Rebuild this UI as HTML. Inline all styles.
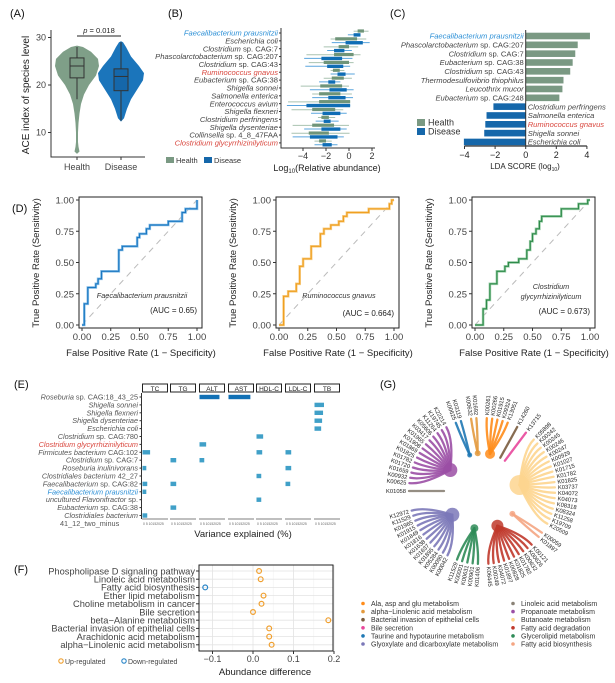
<!DOCTYPE html>
<html><head><meta charset="utf-8"><style>
html,body{margin:0;padding:0;background:#fff;}
svg{display:block;font-family:"Liberation Sans",Arial,sans-serif;}
</style></head><body>
<svg id="fig" width="615" height="683" viewBox="0 0 615 683" xmlns="http://www.w3.org/2000/svg">
<g id="gA"></g>
<g id="gB"></g>
<g id="gC"></g>
<g id="gD"></g>
<g id="gE"></g>
<g id="gF"></g>
<g id="gG"></g>
</svg>
<script>
// ---------- DATA ----------
// Panel A
const aGroups = ["Health","Disease"];
const aHealthProfileV = [5.5,6,7,8,10,12,14,16,18,20,22,24,25.5,27,28,28.3];
const aHealthProfileW = [0,2.5,1.5,1,1,1.5,2.5,4,7,12,19,22,21,14,6,0];
const aDiseaseProfileV = [12.3,13,15,17,19,21,22.5,24,26,28,29,29.2];
const aDiseaseProfileW = [0,3,6,10,16,22,23,18,10,5,2,0];
const aBoxHealth = [17,21.5,24,25.7,28];
const aBoxDisease = [12.5,18.8,21.8,23.4,29];
const aTicks = [10,20,30];
// Panel B
const bSpecies = [["Faecalibacterium prausnitzii",""],["Escherichia coli",""],["Clostridium"," sp. CAG:7"],["Phascolarctobacterium"," sp. CAG:207"],["Clostridium"," sp. CAG:43"],["Ruminococcus gnavus",""],["Eubacterium"," sp. CAG:38"],["Shigella sonnei",""],["Salmonella enterica",""],["Enterococcus avium",""],["Shigella flexneri",""],["Clostridium perfringens",""],["Shigella dysenteriae",""],["Collinsella"," sp. 4_8_47FAA"],["Clostridium glycyrrhizinilyticum",""]];
const bLabelColor = ["blue","","","","","red","","","","","","","","","red"];
const bHealthWhiskLo = [0.4,-1.6,-2.2,-3.7,-3.5,-1.6,-2.2,-4.2,-3.2,-5.3,-5.0,-2.7,-4.9,-5.0,-3.0];
const bHealthWhiskHi = [1.7,1.5,0.8,1.0,0.4,-0.4,0.25,0,0.25,0.1,-0.5,-1.2,0,0.05,-1.5];
const bHealthBoxLo = [0.75,-1.2,-0.9,-1.3,-2.2,-1.4,-1.5,-2.5,-2.6,-2.6,-3.2,-2.4,-3.2,-3.5,-2.6];
const bHealthBoxHi = [1.3,0.7,0,0.4,0,-0.8,-0.45,-0.6,-0.75,0.1,-1.2,-1.75,-1.3,-1.75,-2.0];
const bDisWhiskLo = [-0.1,-1.5,-1.9,-3.9,-3.8,-1.6,-2.6,-3.4,-3.2,-5.4,-3.3,-2.9,-3.9,-4.9,-3.0];
const bDisWhiskHi = [1.0,1.8,0.25,0.3,0.1,0.5,-0.75,0.4,0.35,0.1,-0.2,-0.9,-0.2,-0.45,-1.0];
const bDisBoxLo = [0.4,-0.3,-1.3,-2.4,-1.9,-1.0,-1.8,-1.7,-1.8,-3.7,-2.3,-2.2,-2.4,-3.4,-2.3];
const bDisBoxHi = [1.0,1.2,-0.4,-0.6,-0.5,-0.3,-1.2,-0.2,-0.3,0.1,-0.75,-1.6,-0.75,-1.0,-1.5];
const bTicks = [-4,-2,0,2];
// Panel C
const cSpecies = [["Faecalibacterium prausnitzii",""],["Phascolarctobacterium"," sp. CAG:207"],["Clostridium"," sp. CAG:7"],["Eubacterium"," sp. CAG:38"],["Clostridium"," sp. CAG:43"],["Thermodesulfovibrio thiophilus",""],["Leucothrix mucor",""],["Eubacterium"," sp. CAG:248"],["Clostridium perfringens",""],["Salmonella enterica",""],["Ruminococcus gnavus",""],["Shigella sonnei",""],["Escherichia coli",""]];
const cLabelColor = ["blue","","","","","","","","","","red","",""];
const cLDA = [4.2,3.4,3.24,3.07,2.91,2.47,2.4,2.2,-2.11,-2.56,-2.64,-2.71,-4.04];
const cTicks = [-4,-2,0,2,4];
// Panel D
const dTicks = [0,0.25,0.5,0.75,1];
const dTickLabels = ["0.00","0.25","0.50","0.75","1.00"];
const roc1F = [0,0.02,0.02,0.05,0.05,0.12,0.12,0.14,0.14,0.17,0.17,0.32,0.32,0.35,0.35,0.48,0.48,0.5,0.5,0.56,0.56,0.59,0.59,0.75,0.75,0.87,0.87,0.9,0.9,1,1];
const roc1T = [0,0,0.17,0.17,0.3,0.3,0.33,0.33,0.37,0.37,0.43,0.43,0.6,0.6,0.63,0.63,0.7,0.7,0.73,0.73,0.77,0.77,0.8,0.8,0.83,0.83,0.9,0.9,0.93,0.93,1];
const roc2F = [0,0.04,0.04,0.08,0.08,0.15,0.15,0.18,0.18,0.21,0.21,0.28,0.28,0.36,0.36,0.39,0.39,0.45,0.45,0.52,0.52,0.56,0.56,0.59,0.59,0.78,0.78,0.96,0.96,0.98,0.98,1];
const roc2T = [0,0,0.23,0.23,0.27,0.27,0.33,0.33,0.47,0.47,0.53,0.53,0.63,0.63,0.73,0.73,0.77,0.77,0.8,0.8,0.83,0.83,0.87,0.87,0.9,0.9,0.93,0.93,0.97,0.97,1,1];
const roc3F = [0,0.07,0.07,0.1,0.1,0.13,0.13,0.19,0.19,0.26,0.26,0.29,0.29,0.38,0.38,0.45,0.45,0.48,0.48,0.5,0.5,0.53,0.53,0.56,0.56,0.58,0.58,0.75,0.75,0.9,0.9,0.98,0.98,1];
const roc3T = [0,0,0.13,0.13,0.2,0.2,0.33,0.33,0.43,0.43,0.47,0.47,0.5,0.5,0.53,0.53,0.6,0.6,0.67,0.67,0.73,0.73,0.77,0.77,0.83,0.83,0.87,0.87,0.93,0.93,0.97,0.97,1,1];
const dSpecies = [["Faecalibacterium prausnitzii"],["Ruminococcus gnavus"],["Clostridium","glycyrrhizinilyticum"]];
const dAUC = ["(AUC = 0.65)","(AUC = 0.664)","(AUC = 0.673)"];
// Panel E
const eFacets = ["TC","TG","ALT","AST","HDL-C","LDL-C","TB"];
const eSpecies = [["Roseburia"," sp. CAG:18_43_25"],["Shigella sonnei",""],["Shigella flexneri",""],["Shigella dysenteriae",""],["Escherichia coli",""],["Clostridium"," sp. CAG:780"],["Clostridium  glycyrrhizinilyticum",""],["Firmicutes bacterium"," CAG:102"],["Clostridium"," sp. CAG:7"],["Roseburia inulinivorans",""],["Clostridiales bacterium"," 42_27"],["Faecalibacterium"," sp. CAG:82"],["Faecalibacterium prausnitzii",""],["uncultured Flavonifractor"," sp."],["Eubacterium"," sp. CAG:38"],["Clostridiales bacterium",""]];
const eLabelColor = ["","","","","","","red","","","","","","blue","","",""];
const eRow = [0,0,1,2,3,4,5,6,7,7,7,8,8,9,9,10,11,11,11,12,13,14,15];
const eFacet = [2,3,6,6,6,6,4,2,0,4,5,1,2,0,5,4,0,1,5,0,4,1,0];
const eValue = [21,23,10,9,8,7,7,7,8,6,6,6,5,4,6,5,5,6,5,4,5,6,5];
// Panel F
const fPathways = ["Phospholipase D signaling pathway","Linoleic acid metabolism","Fatty acid biosynthesis","Ether lipid metabolism","Choline metabolism in cancer","Bile secretion","beta\u2212Alanine metabolism","Bacterial invasion of epithelial cells","Arachidonic acid metabolism","alpha\u2212Linolenic acid metabolism"];
const fDiff = [0.015,0.019,-0.118,0.026,0.021,0.0,0.186,0.04,0.04,0.046];
const fUp = [1,1,0,1,1,1,1,1,1,1];
const fTicks = [-0.1,0,0.1,0.2];
const fTickLabels = ["\u22120.1","0.0","0.1","0.2"];
// Panel G
const gGroupNames = ["Linoleic acid metabolism","Propanoate metabolism","Taurine and hypotaurine metabolism","alpha\u2212Linolenic acid metabolism","Ala, asp and glu metabolism","Bacterial invasion of epithelial cells","Bile secretion","Butanoate metabolism","Fatty acid biosynthesis","Fatty acid degradation","Glycerolipid metabolism","Glyoxylate and dicarboxylate metabolism"];
const gGroupColors = ["#8a8276","#9b4fa5","#1f78b4","#e39a3e","#ff8c1a","#7a5c3e","#e8479b","#fdd58f","#f4a582","#c0392b","#2e8b57","#7b78b8"];
const gGroupLeaves = [
 ["K01058"],
 ["K00625","K00932","K01659","K01720","K01782","K01825","K01869","K01908","K01965","K03417","K05606","K11264","K19745","K22214"],
 ["K00625","K03119"],
 ["K00632","K01692"],
 ["K00261","K00266","K01915","K09324","K13051"],
 ["K14260"],
 ["K13715"],
 ["K05898","K00242","K00245","K00246","K00247","K00929","K01027","K01715","K01782","K01825","K03737","K04072","K04073","K08318","K08324","K11258","K19709","K20509"],
 ["K00059","K01897"],
 ["K00121","K00626","K00632","K01782","K01825","K00828","K01897","K04072","K00249","K06445"],
 ["K01406","K00901","K00631","K00001","K11529"],
 ["K00042","K00090","K05284","K01895","K01637","K01638","K01816","K01849","K01915","K01965","K11529","K12972"]
];
const gHubR = [0,7,2.5,3,5,0,0,10,3,6,4,7];
const gLegendOrder = [4,3,5,6,2,11,0,1,7,9,10,8];

// ---------- HELPERS ----------
const NS="http://www.w3.org/2000/svg";
function mk(tag,attrs,parent){const e=document.createElementNS(NS,tag);for(const k in attrs)e.setAttribute(k,attrs[k]);parent.appendChild(e);return e;}
function txt(parent,x,y,s,attrs){const t=mk('text',Object.assign({x:x,y:y,'font-size':9,fill:'#333'},attrs||{}),parent);t.textContent=s;return t;}
function spLabel(parent,x,y,parts,anchor,color,fs){
  const t=mk('text',{x:x,y:y,'font-size':fs,'text-anchor':anchor,fill:color},parent);
  const a=mk('tspan',{'font-style':'italic'},t);a.textContent=parts[0];
  if(parts[1]){const b=mk('tspan',{},t);b.textContent=parts[1];}
  return t;
}
const COLRED="#d9473e", COLBLUE="#2b8fd6";
function lc(c){return c==="red"?COLRED:(c==="blue"?COLBLUE:"#444");}
const gA=document.getElementById('gA'),gB=document.getElementById('gB'),gC=document.getElementById('gC'),gD=document.getElementById('gD'),gE=document.getElementById('gE'),gF=document.getElementById('gF'),gG=document.getElementById('gG');

// ---------- PANEL A ----------
(function(){
 const yA=v=>85-(v-20)*4.75, xs=[77,121];
 let t=txt(gA,10,17,"(A)",{'font-size':11,fill:'#111'});
 
 
 const prof=[[aHealthProfileV,aHealthProfileW,"#7f9f88"],[aDiseaseProfileV,aDiseaseProfileW,"#1b75bb"]];
 const boxes=[aBoxHealth,aBoxDisease], boxFill=["#7a9983","#1567aa"];
 prof.forEach((p,gi)=>{
  const cx=xs[gi];let d="M"+cx+","+yA(p[0][0]);
  p[0].forEach((v,i)=>{d+=" L"+(cx+p[1][i])+","+yA(v);});
  for(let i=p[0].length-1;i>=0;i--){d+=" L"+(cx-p[1][i])+","+yA(p[0][i]);}
  const vi=mk('path',{d:d+"Z",fill:p[2],stroke:'none'},gA);
  
  
  const b=boxes[gi];
  const w=mk('line',{x1:cx,x2:cx,y1:yA(b[0]),y2:yA(b[4]),stroke:'#333','stroke-width':1},gA);
  
  
  const r=mk('rect',{x:cx-7,y:yA(b[3]),width:14,height:yA(b[1])-yA(b[3]),fill:boxFill[gi],stroke:'#333','stroke-width':1},gA);
  
  
  const m=mk('line',{x1:cx-7,x2:cx+7,y1:yA(b[2]),y2:yA(b[2]),stroke:'#333','stroke-width':1},gA);
  
  
  const l=txt(gA,cx,170,aGroups[gi],{'text-anchor':'middle','font-size':9,fill:'#444'});
  
  
 });
 const ax=mk('path',{d:"M51,30 L51,157 L145,157",fill:'none',stroke:'#333','stroke-width':1},gA);
 
 
 aTicks.forEach(v=>{
  mk('line',{x1:48,x2:51,y1:yA(v),y2:yA(v),stroke:'#333'},gA);
  const tl=txt(gA,46,yA(v)+3,String(v),{'text-anchor':'end','font-size':9,fill:'#444'});
  
  
 });
 xs.forEach(x=>mk('line',{x1:x,x2:x,y1:157,y2:160,stroke:'#333'},gA));
 const yt=txt(gA,0,0,"ACE index of species level",{'text-anchor':'middle','font-size':10,fill:'#222',transform:'translate(29,95) rotate(-90)'});
 
 
 const br=mk('line',{x1:77,x2:121,y1:36,y2:36,stroke:'#222','stroke-width':1},gA);
 
 
 const pv=mk('text',{x:99,y:33,'font-size':7.5,'text-anchor':'middle',fill:'#222'},gA);
 
 
 const pi=mk('tspan',{'font-style':'italic'},pv);pi.textContent="p";
 const pr=mk('tspan',{},pv);pr.textContent=" = 0.018";
})();

// ---------- PANEL B ----------
(function(){
 const yB=i=>33+i*7.85, xB=v=>349+v*11.5;
 let t=txt(gB,168,17,"(B)",{'font-size':11,fill:'#111'});
 
 
 bSpecies.forEach((s,i)=>{
  const l=spLabel(gB,278,yB(i)+2.6,s,'end',lc(bLabelColor[i]),7.6);
  
  
  mk('line',{x1:279,x2:281,y1:yB(i),y2:yB(i),stroke:'#333'},gB);
  const hw=mk('line',{x1:xB(bHealthWhiskLo[i]),x2:xB(bHealthWhiskHi[i]),y1:yB(i)-1.8,y2:yB(i)-1.8,stroke:'#a9c2b0','stroke-width':1},gB);
  
  
  const hb=mk('rect',{x:xB(bHealthBoxLo[i]),y:yB(i)-3.6,width:xB(bHealthBoxHi[i])-xB(bHealthBoxLo[i]),height:3.2,fill:'#6f9479'},gB);
  
  
  const dw=mk('line',{x1:xB(bDisWhiskLo[i]),x2:xB(bDisWhiskHi[i]),y1:yB(i)+1.8,y2:yB(i)+1.8,stroke:'#5aa5de','stroke-width':1},gB);
  
  
  const db=mk('rect',{x:xB(bDisBoxLo[i]),y:yB(i)+0.2,width:xB(bDisBoxHi[i])-xB(bDisBoxLo[i]),height:3.4,fill:'#0f6db5'},gB);
  
  
 });
 const ax=mk('path',{d:"M281,28 L281,148 L375,148",fill:'none',stroke:'#333','stroke-width':1},gB);
 
 
 bTicks.forEach(v=>{
  mk('line',{x1:xB(v),x2:xB(v),y1:148,y2:151,stroke:'#333'},gB);
  const tl=txt(gB,xB(v),159,v<0?"\u2212"+(-v):String(v),{'text-anchor':'middle','font-size':9,fill:'#333'});
  
  
 });
 const xt=mk('text',{x:327,y:171,'font-size':9,'text-anchor':'middle',fill:'#222'},gB);
 
 
 let a=mk('tspan',{},xt);a.textContent="Log";
 a=mk('tspan',{'font-size':6,dy:2},xt);a.textContent="10";
 a=mk('tspan',{dy:-2},xt);a.textContent="(Relative abundance)";
 const lg=[["Health","#7a9983",166],["Disease","#1567aa",204]];
 lg.forEach(g=>{
  const r=mk('rect',{x:g[2],y:157,width:8,height:6,fill:g[1]},gB);
  
  
  const l=txt(gB,g[2]+10,163,g[0],{'font-size':7.5,fill:'#333'});
  
  
 });
})();

// ---------- PANEL C ----------
(function(){
 const x0=525.7, xC=v=>x0+v*15.3, yC=i=>36+i*8.83;
 let t=txt(gC,390,17,"(C)",{'font-size':11,fill:'#111'});
 
 
 cLDA.forEach((v,i)=>{
  const r=mk('rect',{x:Math.min(xC(v),x0),y:yC(i)-3.3,width:Math.abs(xC(v)-x0),height:6.6,fill:v>0?'#7a9983':'#1567aa'},gC);
  
  
  const l=spLabel(gC,v>0?x0-2:x0+2,yC(i)+2.7,cSpecies[i],v>0?'end':'start',lc(cLabelColor[i]),7.6);
  
  
 });
 mk('line',{x1:x0,x2:x0,y1:30,y2:146,stroke:'#333','stroke-width':1},gC);
 const ax=mk('line',{x1:xC(-4),x2:xC(4),y1:146,y2:146,stroke:'#333','stroke-width':1.2},gC);
 
 
 cTicks.forEach(v=>{
  mk('line',{x1:xC(v),x2:xC(v),y1:146,y2:149,stroke:'#333'},gC);
  const tl=txt(gC,xC(v),158,v<0?"\u2212"+(-v):String(v),{'text-anchor':'middle','font-size':9,fill:'#222'});
  
  
 });
 const xt=mk('text',{x:525,y:169,'font-size':8,'text-anchor':'middle',fill:'#222'},gC);
 
 
 let a=mk('tspan',{},xt);a.textContent="LDA SCORE (log";
 a=mk('tspan',{'font-size':5,dy:2},xt);a.textContent="10";
 a=mk('tspan',{dy:-2},xt);a.textContent=")";
 [["Health","#7a9983",120],["Disease","#1567aa",129]].forEach(g=>{
  const r=mk('rect',{x:417,y:g[2]-1,width:8,height:7,fill:g[1]},gC);
  
  
  const l=txt(gC,428,g[2]+5.5,g[0],{'font-size':9,fill:'#333'});
  
  
 });
})();

// ---------- PANEL D ----------
(function(){
 let t=txt(gD,12,212,"(D)",{'font-size':11,fill:'#111'});
 
 
 const offs=[0,197,393], cols=["#1a78c2","#f0a020","#2e8b4a"], shadow=["#8cc0e8","#f7cf8c","#9fd0ac"];
 const rocF=[roc1F,roc2F,roc3F], rocT=[roc1T,roc2T,roc3T];
 offs.forEach((ox,k)=>{
  const xD=f=>82+ox+f*115, yD=v=>325-v*125;
  const g=mk('g',{},gD);
  
  
  mk('line',{x1:xD(0),y1:yD(0),x2:xD(1),y2:yD(1),stroke:'#bbb','stroke-width':1,'stroke-dasharray':'6,5'},g);
  let d="";rocF[k].forEach((f,i)=>{d+=(i?" L":"M")+xD(f).toFixed(1)+","+yD(rocT[k][i]).toFixed(1);});
  mk('path',{d:d,fill:'none',stroke:shadow[k],'stroke-width':2.6},g);
  const c=mk('path',{d:d,fill:'none',stroke:cols[k],'stroke-width':1.2},g);
  
  
  const bx=mk('rect',{x:79+ox,y:197,width:123,height:131,fill:'none',stroke:'#222','stroke-width':1},g);
  
  
  dTicks.forEach((v,i)=>{
   mk('line',{x1:76+ox,x2:79+ox,y1:yD(v),y2:yD(v),stroke:'#333'},g);
   const yl=txt(g,74+ox,yD(v)+3.5,dTickLabels[i],{'text-anchor':'end','font-size':9.5,fill:'#444'});
   
   
   mk('line',{x1:xD(v),x2:xD(v),y1:328,y2:331,stroke:'#333'},g);
   const xl=txt(g,xD(v),340,dTickLabels[i],{'text-anchor':'middle','font-size':9.5,fill:'#444'});
   
   
  });
  const yt=txt(g,0,0,"True Positive Rate (Sensitivity)",{'text-anchor':'middle','font-size':9.5,fill:'#222',transform:'translate('+(39+ox)+',263) rotate(-90)'});
  
  
  const xt=txt(g,141+ox,356,"False Positive Rate (1 \u2212 Specificity)",{'text-anchor':'middle','font-size':9.5,fill:'#222'});
  
  
  const sp=dSpecies[k];
  sp.forEach((s,j)=>{
   const yy=sp.length>1?289+j*10:298;
   const st=txt(g,sp.length>1?158+ox:142+ox,yy,s,{'text-anchor':'middle','font-size':7.3,'font-style':'italic',fill:'#333'});
   
   
  });
  const au=txt(g,197+ox,sp.length>1?314:(k===0?313:316),dAUC[k],{'text-anchor':'end','font-size':8,fill:'#222'});
  
  
 });
})();

// ---------- PANEL E ----------
(function(){
 let t=txt(gE,14,388,"(E)",{'font-size':11,fill:'#111'});
 
 
 const fx=[142,170,199,228,256,285,314], fw=26, yE=i=>397+i*7.9;
 eFacets.forEach((f,i)=>{
  const r=mk('rect',{x:fx[i]+0.5,y:384,width:fw-1,height:8,fill:'#fff',stroke:'#222','stroke-width':1},gE);
  
  
  const l=txt(gE,fx[i]+fw/2,390.8,f,{'text-anchor':'middle','font-size':6.5,fill:'#222'});
  
  
  mk('line',{x1:fx[i],x2:fx[i]+fw,y1:519,y2:519,stroke:'#555','stroke-width':0.8},gE);
  const tk=txt(gE,fx[i]+1,525,"0  5 10152025",{'font-size':3.4,fill:'#666'});
  
  
 });
 mk('line',{x1:141.5,x2:141.5,y1:393,y2:519,stroke:'#333','stroke-width':1},gE);
 eSpecies.forEach((s,i)=>{
  const l=spLabel(gE,138,yE(i)+2.5,s,'end',eLabelColor[i]?lc(eLabelColor[i]):'#555',7.3);
  
  
  mk('line',{x1:139.5,x2:141.5,y1:yE(i),y2:yE(i),stroke:'#333'},gE);
 });
 const ex=txt(gE,60,526,"41_12_two_minus",{'font-size':7.3,fill:'#555'});
 
 
 eValue.forEach((v,k)=>{
  const big=v>15;
  const r=mk('rect',{x:fx[eFacet[k]]+0.5,y:yE(eRow[k])-2.2,width:v*0.95,height:4.4,fill:big?'#1170b5':'#40a0c8'},gE);
  
  
 });
 const xt=txt(gE,243,537,"Variance explained (%)",{'text-anchor':'middle','font-size':9.5,fill:'#222'});
 
 
})();

// ---------- PANEL F ----------
(function(){
 let t=txt(gF,14,573,"(F)",{'font-size':11,fill:'#111'});
 
 
 const xF=v=>253+v*405, yF=i=>571+i*8.2;
 [-0.15,-0.05,0.05,0.15].forEach(v=>mk('line',{x1:xF(v),x2:xF(v),y1:565,y2:651,stroke:'#f2f2f2','stroke-width':0.6},gF));
 fTicks.forEach(v=>mk('line',{x1:xF(v),x2:xF(v),y1:565,y2:651,stroke:'#e3e3e3','stroke-width':0.8},gF));
 fPathways.forEach((p,i)=>{
  mk('line',{x1:199,x2:333,y1:yF(i),y2:yF(i),stroke:'#e3e3e3','stroke-width':0.8},gF);
  const l=txt(gF,195,yF(i)+3.3,p,{'text-anchor':'end','font-size':9.3,fill:'#444'});
  
  
  mk('line',{x1:196,x2:199,y1:yF(i),y2:yF(i),stroke:'#333'},gF);
 });
 fDiff.forEach((v,i)=>{
  const c=mk('circle',{cx:xF(v),cy:yF(i),r:2.4,fill:'none',stroke:fUp[i]?'#f0a030':'#2a86c8','stroke-width':1.2},gF);
  
  
 });
 const bx=mk('rect',{x:199,y:565,width:134,height:86,fill:'none',stroke:'#222','stroke-width':1},gF);
 
 
 fTicks.forEach((v,i)=>{
  mk('line',{x1:xF(v),x2:xF(v),y1:651,y2:654,stroke:'#333'},gF);
  const tl=txt(gF,xF(v),662,fTickLabels[i],{'text-anchor':'middle','font-size':9,fill:'#444'});
  
  
 });
 const xt=txt(gF,265,675,"Abundance difference",{'text-anchor':'middle','font-size':9.5,fill:'#222'});
 
 
 [["Up-regulated","#f0a030",61],["Down-regulated","#2a86c8",124]].forEach(g=>{
  const c=mk('circle',{cx:g[2],cy:661,r:2.2,fill:'none',stroke:g[1],'stroke-width':1.1},gF);
  
  
  const l=txt(gF,g[2]+4,664,g[0],{'font-size':7,fill:'#444'});
  
  
 });
})();

// ---------- PANEL G ----------
(function(){
 let t=txt(gG,380,388,"(G)",{'font-size':11,fill:'#111'});
 
 
 const cx=482, cy=491, step=4.2, rad=Math.PI/180;
 let ang=180;
 const P=(r,a)=>[cx+r*Math.cos(a*rad),cy+r*Math.sin(a*rad)];
 gGroupLeaves.forEach((leaves,gi)=>{
  const col=gGroupColors[gi];
  const angs=leaves.map((_,j)=>ang+j*step);
  const mid=(angs[0]+angs[angs.length-1])/2;
  const hub=P(38,mid);
  const grp=mk('g',{},gG);
  
  
  leaves.forEach((k,j)=>{
   const a=angs[j];
   const p1=P(73,a), pc=P(58,a);
   const path=leaves.length>1?("M"+p1[0].toFixed(1)+","+p1[1].toFixed(1)+" Q"+pc[0].toFixed(1)+","+pc[1].toFixed(1)+" "+hub[0].toFixed(1)+","+hub[1].toFixed(1)):("M"+p1[0].toFixed(1)+","+p1[1].toFixed(1)+" L"+hub[0].toFixed(1)+","+hub[1].toFixed(1));
   const br=mk('path',{d:path,fill:'none',stroke:col,'stroke-width':2.3,'stroke-linecap':'round',opacity:0.9},grp);
   
   
   const lp=P(76,a);
   const flip=Math.cos(a*rad)<0;
   const rot=flip?a+180:a;
   const lt=txt(grp,lp[0],lp[1]+2,k,{'font-size':5.8,fill:'#222','text-anchor':flip?'end':'start',transform:'rotate('+rot.toFixed(1)+' '+lp[0].toFixed(1)+' '+lp[1].toFixed(1)+')'});
   
   
  });
  if(gHubR[gi]>0){
   const h=mk('circle',{cx:hub[0],cy:hub[1],r:gHubR[gi],fill:col,opacity:0.85},grp);
   
   
  }
  ang+=leaves.length*step+(gi===0?2:4);
 });
 gLegendOrder.forEach((gi,k)=>{
  const colx=k<6?363:513, row=k%6;
  const yy=606+row*8.1;
  const d=mk('circle',{cx:colx,cy:yy-2.5,r:1.8,fill:gGroupColors[gi]},gG);
  
  
  const l=txt(gG,colx+8,yy,gGroupNames[gi],{'font-size':7,fill:'#333'});
  
  
 });
})();
</script>
</body></html>
